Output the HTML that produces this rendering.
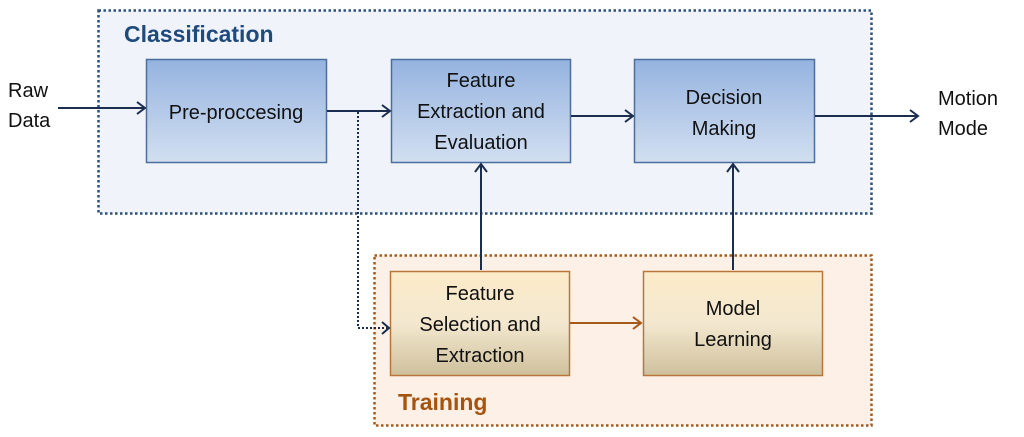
<!DOCTYPE html>
<html><head><meta charset="utf-8"><style>
html,body{margin:0;padding:0;background:#fff;}
svg{display:block;}
text{font-family:"Liberation Sans",sans-serif;}
</style></head><body>
<svg width="1024" height="437" viewBox="0 0 1024 437" xmlns="http://www.w3.org/2000/svg">
<defs>
<linearGradient id="bl" x1="0" y1="0" x2="0" y2="1"><stop offset="0" stop-color="#95b3e0"/><stop offset="1" stop-color="#d2dff1"/></linearGradient>
<linearGradient id="yl" x1="0" y1="0" x2="0" y2="1"><stop offset="0" stop-color="#fdebc9"/><stop offset="0.5" stop-color="#f3e8cf"/><stop offset="1" stop-color="#cfc09c"/></linearGradient>
</defs>
<rect x="98.5" y="10.5" width="773" height="203" fill="#f0f3f9" stroke="#2c4f7c" stroke-width="2.5" stroke-dasharray="2.5 2.5"/>
<rect x="374.5" y="255.5" width="497" height="170" fill="#fdf0e6" stroke="#a55a1c" stroke-width="2.5" stroke-dasharray="2.5 2.5"/>
<text x="124" y="42" font-size="23" font-weight="bold" fill="#1f4a7d">Classification</text>
<text x="398" y="410" font-size="23" font-weight="bold" fill="#a5540f">Training</text>
<g stroke="#4a6f9f" stroke-width="1.5" fill="url(#bl)">
<rect x="146.5" y="59.5" width="180" height="103"/>
<rect x="391.5" y="59.5" width="179" height="103"/>
<rect x="634.5" y="59.5" width="180" height="103"/>
</g>
<g stroke="#b8773a" stroke-width="1.5" fill="url(#yl)">
<rect x="390.5" y="271.5" width="179" height="104"/>
<rect x="643.5" y="271.5" width="179" height="104"/>
</g>
<g font-size="20" fill="#111" text-anchor="middle">
<text x="236" y="119">Pre-proccesing</text>
<text x="481" y="87">Feature</text>
<text x="481" y="118">Extraction and</text>
<text x="481" y="149">Evaluation</text>
<text x="724" y="104">Decision</text>
<text x="724" y="135">Making</text>
<text x="480" y="300">Feature</text>
<text x="480" y="331">Selection and</text>
<text x="480" y="362">Extraction</text>
<text x="733" y="315">Model</text>
<text x="733" y="346">Learning</text>
</g>
<g font-size="20" fill="#111">
<text x="8" y="97">Raw</text>
<text x="8" y="127">Data</text>
<text x="938" y="105">Motion</text>
<text x="938" y="135">Mode</text>
</g>
<g stroke="#1b2e4f" stroke-width="2" fill="none">
<line x1="58" y1="108" x2="145" y2="108"/><polyline points="137,102 145,108 137,114"/>
<line x1="327" y1="111" x2="390" y2="111"/><polyline points="382,105 390,111 382,117"/>
<line x1="571" y1="116" x2="633" y2="116"/><polyline points="625,110 633,116 625,122"/>
<line x1="815" y1="116" x2="918" y2="116"/><polyline points="910,110 918,116 910,122"/>
<line x1="481" y1="270" x2="481" y2="164"/><polyline points="475,172 481,164 487,172"/>
<line x1="733" y1="270" x2="733" y2="164"/><polyline points="727,172 733,164 739,172"/>
<polyline points="358,112 358,328 389,328" stroke-dasharray="2 2"/>
<polyline points="382,322 389,328 382,334"/>
</g>
<g stroke="#a55a1c" stroke-width="2" fill="none">
<line x1="570" y1="323" x2="641" y2="323"/><polyline points="633,317 641,323 633,329"/>
</g>
</svg>
</body></html>
